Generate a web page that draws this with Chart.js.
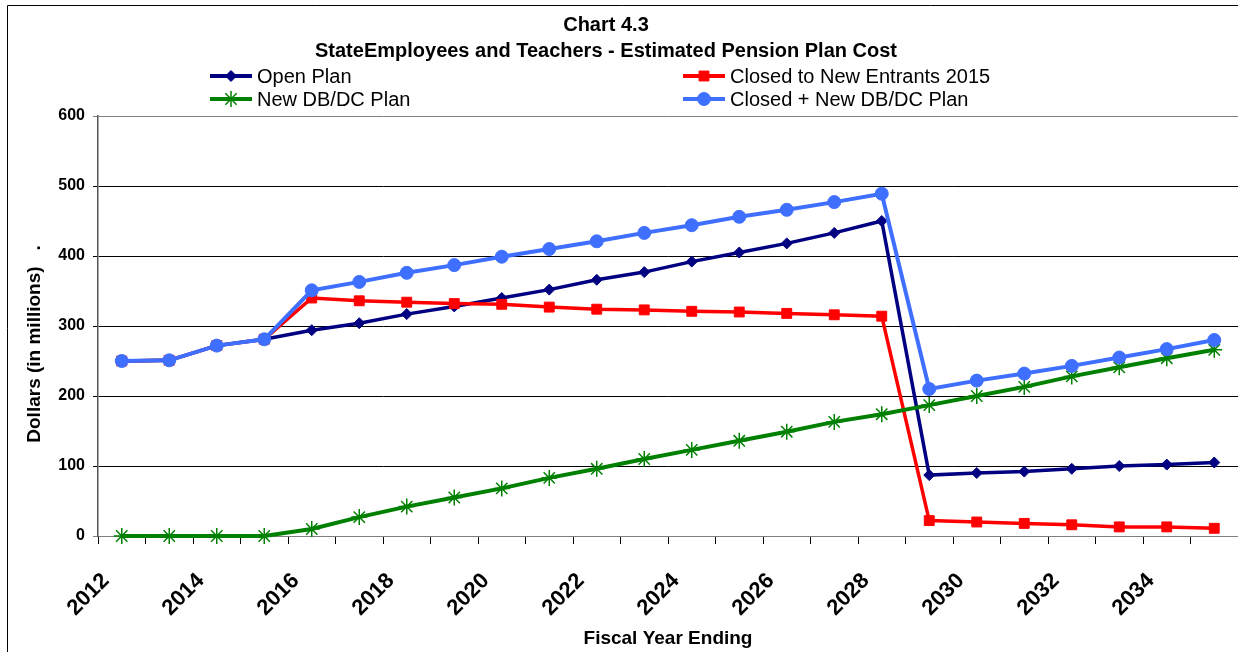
<!DOCTYPE html>
<html>
<head>
<meta charset="utf-8">
<script src="https://cdn.jsdelivr.net/npm/chart.js@4.4.1/dist/chart.umd.min.js"></script>
<style>
html,body{margin:0;padding:0;background:#fff;}
#wrap{width:1238px;height:652px;position:relative;}
</style>
</head>
<body>
<div id="wrap"><canvas id="c"></canvas></div>
<script>
const categories = ['2012','2013','2014','2015','2016','2017','2018','2019','2020','2021','2022','2023','2024','2025','2026','2027','2028','2029','2030','2031','2032','2033','2034','2035'];
const tickLabels = ['2012','','2014','','2016','','2018','','2020','','2022','','2024','','2026','','2028','','2030','','2032','','2034',''];
const openPlan      = [250, 251, 272, 281, 294, 304, 317, 328, 340, 352, 366, 377, 392, 405, 418, 433, 450, 87, 90, 92, 96, 100, 102, 105];
const closed2015    = [250, 251, 272, 281, 340, 336, 334, 332, 331, 327, 324, 323, 321, 320, 318, 316, 314, 22, 20, 18, 16, 13, 13, 11];
const newDBDC       = [0, 0, 0, 0, 10, 27, 42, 55, 68, 83, 96, 110, 123, 136, 149, 163, 174, 187, 200, 213, 228, 241, 254, 266];
const closedPlusNew = [250, 251, 272, 281, 351, 363, 376, 387, 399, 410, 421, 433, 444, 456, 466, 477, 489, 210, 222, 232, 243, 255, 267, 280];
const seriesNames = ['Open Plan', 'Closed to New Entrants 2015', 'New DB/DC Plan', 'Closed + New DB/DC Plan'];
const titleLines = ['Chart 4.3', 'StateEmployees and Teachers - Estimated Pension Plan Cost'];
const yTitle = 'Dollars (in millions)   .';
const xTitle = 'Fiscal Year Ending';

const FONT = "'Liberation Sans', Arial, Helvetica, sans-serif";
Chart.defaults.font.family = FONT;
Chart.defaults.color = '#000';

const styles = [
  {color:'#000080', pointStyle:'rectRot', radius:5.5, bw:3.5, pbw:1},
  {color:'#FF0000', pointStyle:'rect', radius:7, bw:3.5, pbw:1},
  {color:'#008000', pointStyle:'star', radius:8, bw:4, pbw:1.5},
  {color:'#3F6FFF', pointStyle:'circle', radius:6.5, bw:4, pbw:1}
];
const seriesData = [openPlan, closed2015, newDBDC, closedPlusNew];
const drawOrder = [3, 2, 1, 0];

const datasets = seriesData.map((d, i) => ({
  label: seriesNames[i],
  data: d,
  borderColor: styles[i].color,
  backgroundColor: styles[i].color,
  borderWidth: styles[i].bw,
  pointStyle: styles[i].pointStyle,
  pointRadius: styles[i].radius,
  pointHoverRadius: styles[i].radius,
  pointBorderWidth: styles[i].pbw,
  pointBackgroundColor: styles[i].color,
  pointBorderColor: styles[i].color,
  tension: 0,
  clip: false,
  order: drawOrder[i]
}));

const decor = {
  id: 'decor',
  afterDraw(chart) {
    const ctx = chart.ctx;
    ctx.save();
    // frame
    ctx.strokeStyle = '#000';
    ctx.lineWidth = 1;
    ctx.beginPath();
    ctx.moveTo(1238, 5.5); ctx.lineTo(7.5, 5.5); ctx.lineTo(7.5, 652);
    ctx.stroke();
    // titles
    ctx.fillStyle = '#000';
    ctx.textAlign = 'center';
    ctx.textBaseline = 'middle';
    ctx.font = 'bold 20px ' + FONT;
    ctx.fillText(titleLines[0], 606, 25);
    ctx.fillText(titleLines[1], 606, 51);
    // legend
    const pos = [[210, 76], [683, 76], [210, 99], [683, 99]];
    ctx.font = '20px ' + FONT;
    ctx.textAlign = 'left';
    for (let i = 0; i < 4; i++) {
      const [x, y] = pos[i];
      const s = styles[i];
      ctx.strokeStyle = s.color;
      ctx.fillStyle = s.color;
      ctx.lineWidth = 4;
      ctx.beginPath(); ctx.moveTo(x, y); ctx.lineTo(x + 42, y); ctx.stroke();
      ctx.lineWidth = s.pbw;
      Chart.helpers.drawPoint(ctx, {pointStyle: s.pointStyle, radius: s.radius, rotation: 0, borderWidth: s.pbw}, x + 21, y);
      ctx.fillStyle = '#000';
      ctx.fillText(seriesNames[i], x + 47, y + 1);
    }
    // y title
    ctx.save();
    ctx.translate(35, 344);
    ctx.rotate(-Math.PI / 2);
    ctx.font = 'bold 19px ' + FONT;
    ctx.textAlign = 'center';
    ctx.textBaseline = 'middle';
    ctx.fillStyle = '#000';
    ctx.fillText(yTitle, 0, 0);
    ctx.restore();
    ctx.restore();
  }
};

new Chart(document.getElementById('c'), {
  type: 'line',
  data: { labels: categories, datasets },
  plugins: [decor],
  options: {
    responsive: true,
    maintainAspectRatio: false,
    animation: false,
    devicePixelRatio: 1,
    layout: { autoPadding: false, padding: { top: 116, left: 0, right: -2, bottom: 0 } },
    plugins: { legend: { display: false }, title: { display: false }, tooltip: { enabled: false } },
    scales: {
      x: {
        type: 'category',
        offset: true,
        grid: { offset: true, drawOnChartArea: false, drawTicks: true, tickLength: 8, color: '#000', lineWidth: 1 },
        border: { display: true, color: '#808080', width: 1 },
        ticks: {
          autoSkip: false, minRotation: 45, maxRotation: 45,
          font: { size: 22, weight: 'bold' }, color: '#000',
          padding: 24, labelOffset: -16,
          callback: (v, i) => tickLabels[i]
        },
        title: { display: true, text: xTitle, font: { size: 19, weight: 'bold' }, color: '#000', padding: { top: 0, bottom: 2 } },
        afterFit: s => { s.height = 116; s.paddingLeft = 0; s.paddingRight = 0; }
      },
      y: {
        min: 0, max: 600,
        ticks: { stepSize: 100, font: { size: 16, weight: 'bold' }, color: '#000', padding: 8 },
        grid: { color: c => (c.tick && (c.tick.value === 600 || c.tick.value === 0)) ? '#808080' : '#000', tickLength: 5, lineWidth: 1 },
        border: { display: true, color: '#555', width: 1.5 },
        afterFit: s => { s.width = 98; s.paddingTop = 0; s.paddingBottom = 0; }
      }
    }
  }
});
</script>
</body>
</html>
